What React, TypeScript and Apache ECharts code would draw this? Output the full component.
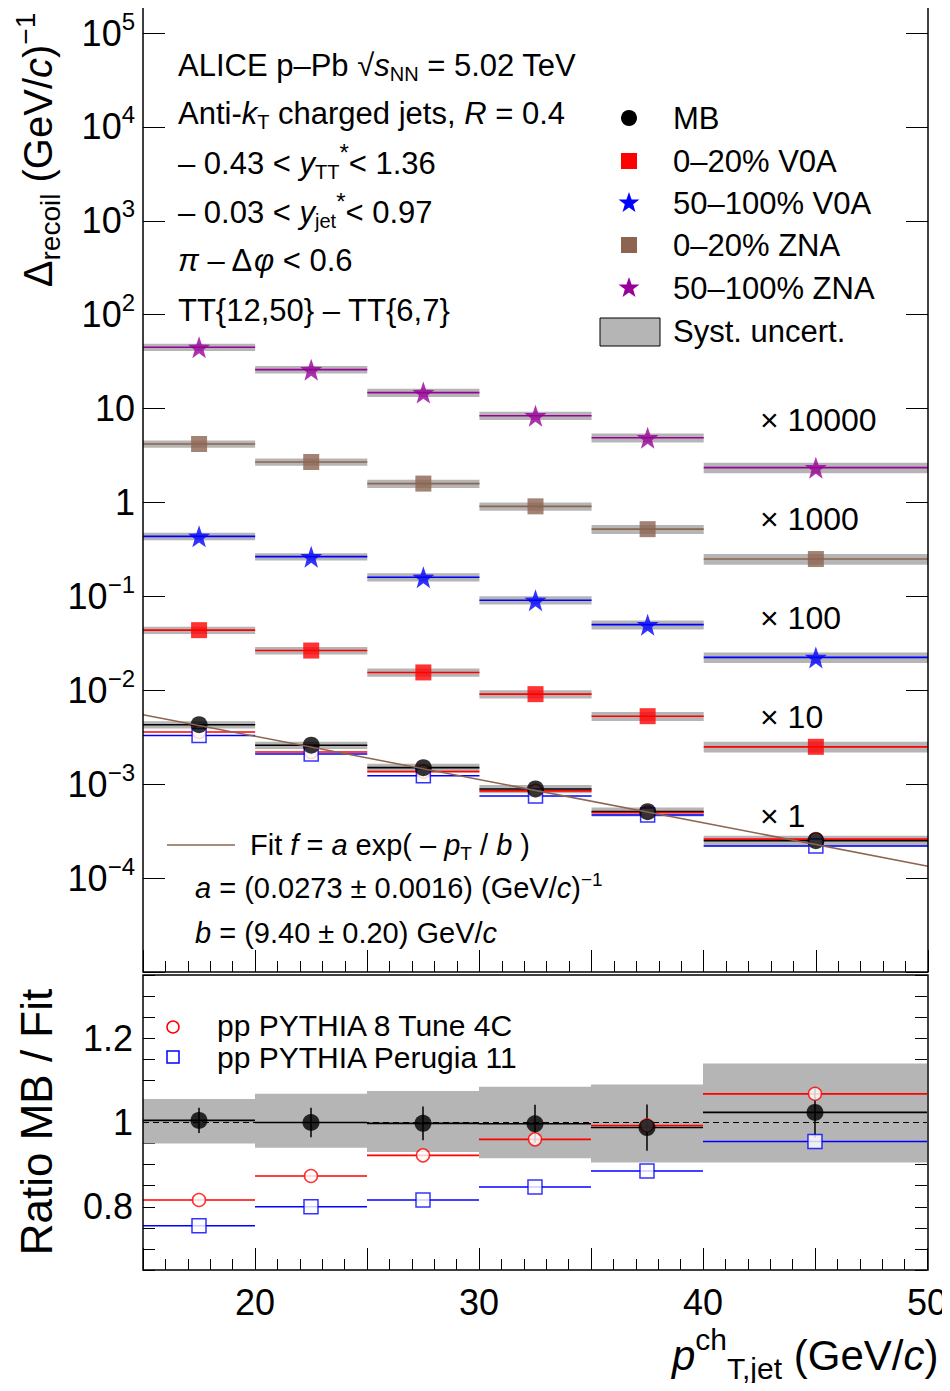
import { useEffect, useRef } from 'react';
import * as echarts from 'echarts';

const FONT = 'Liberation Sans';

const binLo = [15, 20, 25, 30, 35, 40];
const binHi = [20, 25, 30, 35, 40, 50];
const binCenter = [17.5, 22.5, 27.5, 32.5, 37.5, 45];

const mbValues = [0.0043, 0.0026, 0.0015, 0.00089, 0.00051, 0.00025];
const v0aCentral = [0.0437, 0.0265, 0.0155, 0.0091, 0.0053, 0.0025];
const v0aPeripheral = [0.436, 0.265, 0.16, 0.091, 0.05, 0.0224];
const znaCentral = [4.2, 2.7, 1.59, 0.91, 0.52, 0.25];
const znaPeripheral = [45, 26, 14.8, 8.4, 4.9, 2.35];
const tune4cTop = [0.0036, 0.0022, 0.00136, 0.00085, 0.0005, 0.00026];
const perugiaTop = [0.0033, 0.0021, 0.00123, 0.00075, 0.00047, 0.00022];
const sysFrac = [0.09, 0.09, 0.1, 0.1, 0.11, 0.13];

const fitLine = [[15, 0.0055], [50, 0.000134]];

const ratioMB = [1.005, 1.0, 0.998, 0.997, 0.988, 1.024];
const ratioMBErr = [0.03, 0.035, 0.04, 0.045, 0.055, 0.06];
const ratioSysLo = [0.95, 0.94, 0.93, 0.915, 0.905, 0.905];
const ratioSysHi = [1.056, 1.068, 1.075, 1.085, 1.09, 1.14];
const ratioTune4c = [0.816, 0.873, 0.922, 0.96, 0.993, 1.068];
const ratioPerugia = [0.755, 0.8, 0.816, 0.847, 0.885, 0.955];

const multipliers = ['× 10000', '× 1000', '× 100', '× 10', '× 1'];

const STAR = 'path://M0,-10 L2.35,-3.24 L9.51,-3.09 L3.8,1.24 L5.88,8.09 L0,4 L-5.88,8.09 L-3.8,1.24 L-9.51,-3.09 L-2.35,-3.24 Z';

function binSeries(values: number[], color: string, box: boolean, xi: number, lo?: number[], hi?: number[]) {
  const data = values.map((v, i) => [
    binLo[i], binHi[i], v,
    lo ? lo[i] : v * (1 - sysFrac[i]),
    hi ? hi[i] : v * (1 + sysFrac[i]),
  ]);
  return {
    type: 'custom',
    xAxisIndex: xi,
    yAxisIndex: xi === 0 ? 0 : 2,
    data,
    z: box ? 2 : 3,
    renderItem: (_p: any, api: any) => {
      const a = api.coord([api.value(0), api.value(3)]);
      const b = api.coord([api.value(1), api.value(4)]);
      const m = api.coord([api.value(0), api.value(2)]);
      const n = api.coord([api.value(1), api.value(2)]);
      const children: any[] = [];
      if (box) {
        children.push({ type: 'rect', shape: { x: a[0], y: b[1], width: b[0] - a[0], height: a[1] - b[1] }, style: { fill: '#b5b5b5' } });
      }
      children.push({ type: 'line', shape: { x1: m[0], y1: m[1], x2: n[0], y2: n[1] }, style: { stroke: color, lineWidth: 1.6 } });
      return { type: 'group', children };
    },
  };
}

function points(values: number[], symbol: string, size: number, color: string, xi: number, hollow = false) {
  return {
    type: 'scatter',
    xAxisIndex: xi,
    yAxisIndex: xi === 0 ? 0 : 2,
    data: values.map((v, i) => [binCenter[i], v]),
    symbol,
    symbolSize: size,
    z: 5,
    itemStyle: hollow ? { color: '#fff', borderColor: color, borderWidth: 1.5 } : { color },
  };
}

function logLabel(v: number) {
  const e = Math.round(Math.log10(v));
  if (e <= -5) return '';
  if (e === 0) return '1';
  if (e === 1) return '10';
  return `10{s|${e < 0 ? '−' + -e : e}}`;
}

export default function App() {
  const ref = useRef<HTMLDivElement | null>(null);

  useEffect(() => {
    if (!ref.current) return;
    const chart = echarts.init(ref.current, undefined, { renderer: 'svg' });
    const txt = { fontFamily: FONT, fill: '#000' };
    const t = (x: number, y: number, text: string, size: number, rich: any = {}, extra: any = {}) => ({
      type: 'text', x, y,
      style: { ...txt, text, fontSize: size, rich, verticalAlign: 'middle', ...extra },
    });
    const sub = (size: number) => ({ fontSize: size, fontFamily: FONT, padding: [size * 0.9, 0, 0, 0] });
    const sup = (size: number) => ({ fontSize: size, fontFamily: FONT, padding: [0, 0, size * 0.9, 0] });
    const it = (size: number) => ({ fontSize: size, fontFamily: FONT, fontStyle: 'italic' });

    const legend = [
      { y: 118, text: 'MB', sym: { type: 'circle', shape: { cx: 629, cy: 118, r: 8 }, style: { fill: '#000' } } },
      { y: 161, text: '0–20% V0A', sym: { type: 'rect', shape: { x: 621, y: 153, width: 16, height: 16 }, style: { fill: '#ff0000' } } },
      { y: 203, text: '50–100% V0A', sym: { type: 'star', color: '#0000ff' } },
      { y: 245, text: '0–20% ZNA', sym: { type: 'rect', shape: { x: 621, y: 237, width: 16, height: 16 }, style: { fill: '#8c6450' } } },
      { y: 288, text: '50–100% ZNA', sym: { type: 'star', color: '#990099' } },
    ];
    const starPts = (cx: number, cy: number, r: number) => {
      const p: number[][] = [];
      for (let k = 0; k < 10; k++) {
        const ang = -Math.PI / 2 + (k * Math.PI) / 5;
        const rr = k % 2 === 0 ? r : r * 0.4;
        p.push([cx + rr * Math.cos(ang), cy + rr * Math.sin(ang)]);
      }
      return p;
    };

    const graphics: any[] = [
      { type: 'rect', shape: { x: 143, y: 1, width: 785, height: 971 }, style: { fill: 'none', stroke: '#000', lineWidth: 1.5 }, z: 10 },
      { type: 'rect', shape: { x: 143, y: 975, width: 785, height: 295 }, style: { fill: 'none', stroke: '#000', lineWidth: 1.5 }, z: 10 },
      t(178, 65, 'ALICE p–Pb √{i|s}{sb|NN} = 5.02 TeV', 31, { i: it(31), sb: sub(20) }),
      t(178, 113, 'Anti-{i|k}{sb|T} charged jets, {i|R} = 0.4', 31, { i: it(31), sb: sub(20) }),
      t(178, 163, '– 0.43 < {i|y}{sb|TT}{sp|*}< 1.36', 31, { i: it(31), sb: sub(20), sp: sup(24) }),
      t(178, 212, '– 0.03 < {i|y}{sb|jet}{sp|*}< 0.97', 31, { i: it(31), sb: sub(20), sp: sup(24) }),
      t(178, 260, '{i|π} – Δ{i|φ} < 0.6', 31, { i: it(31) }),
      t(178, 310, 'TT{12,50} – TT{6,7}', 31),
      ...legend.map((l) => t(673, l.y, l.text, 31)),
      ...legend.map((l: any) =>
        l.sym.type === 'star'
          ? { type: 'polygon', shape: { points: starPts(629, l.y, 11) }, style: { fill: l.sym.color } }
          : l.sym,
      ),
      { type: 'rect', shape: { x: 600, y: 318, width: 60, height: 28 }, style: { fill: '#b5b5b5', stroke: '#000', lineWidth: 1 } },
      t(673, 331, 'Syst. uncert.', 31),
      ...multipliers.map((m, i) => t(760, 420 + i * 99, m, 32)),
      { type: 'line', shape: { x1: 167, y1: 845, x2: 235, y2: 845 }, style: { stroke: '#8c6450', lineWidth: 1.5 } },
      t(250, 845, 'Fit {i|f} = {i|a} exp( – {i|p}{sb|T} / {i|b} )', 29, { i: it(29), sb: sub(19) }),
      t(195, 888, '{i|a} = (0.0273 ± 0.0016) (GeV/{i|c}){sp|−1}', 29, { i: it(29), sp: sup(19) }),
      t(195, 933, '{i|b} = (9.40 ± 0.20) GeV/{i|c}', 29, { i: it(29) }),
      { type: 'circle', shape: { cx: 173, cy: 1027, r: 6 }, style: { fill: 'none', stroke: '#ff0000', lineWidth: 1.5 } },
      t(217, 1025, 'pp PYTHIA 8 Tune 4C', 30),
      { type: 'rect', shape: { x: 167, y: 1051, width: 12, height: 12 }, style: { fill: 'none', stroke: '#0000ff', lineWidth: 1.5 } },
      t(217, 1057, 'pp PYTHIA Perugia 11', 30),
      {
        type: 'text', x: 38, y: 150, rotation: Math.PI / 2,
        style: { ...txt, text: 'Δ{sb|recoil} (GeV/{i|c}){sp|−1}', fontSize: 40, rich: { sb: sub(28), i: it(40), sp: sup(28) }, align: 'center', verticalAlign: 'middle' },
      },
      {
        type: 'text', x: 36, y: 1122, rotation: Math.PI / 2,
        style: { ...txt, text: 'Ratio MB / Fit', fontSize: 44, align: 'center', verticalAlign: 'middle' },
      },
      t(672, 1355, '{i|p}{c|ch}{sb|T,jet} (GeV/{i|c})', 42, { i: it(42), c: { fontSize: 30, fontFamily: FONT, padding: [0, 0, 32, 0] }, sb: sub(30) }),
    ];

    const yTick = { show: true, inside: true, length: 22, lineStyle: { color: '#000' } };
    chart.setOption({
      animation: false,
      grid: [
        { left: 143, right: 22, top: 33, height: 939 },
        { left: 143, right: 22, top: 975, height: 295 },
      ],
      xAxis: [
        { type: 'value', gridIndex: 0, min: 15, max: 50, interval: 5, axisLine: { show: false }, axisTick: { inside: true, length: 22, lineStyle: { color: '#000' } }, minorTick: { show: true, splitNumber: 5, length: 11, lineStyle: { color: '#000' } }, axisLabel: { show: false }, splitLine: { show: false } },
        {
          type: 'value', gridIndex: 1, min: 15, max: 50, interval: 5,
          axisLine: { show: false },
          axisTick: { inside: true, length: 22, lineStyle: { color: '#000' } },
          minorTick: { show: true, splitNumber: 5, length: 11, lineStyle: { color: '#000' } },
          axisLabel: { fontFamily: FONT, fontSize: 36, color: '#000', margin: 14, formatter: (v: number) => (v % 10 === 0 ? String(v) : '') },
          splitLine: { show: false },
        },
      ],
      yAxis: [
        {
          type: 'log', gridIndex: 0, min: 1e-5, max: 1e5, logBase: 10, interval: 1,
          axisLine: { show: false }, axisTick: yTick, splitLine: { show: false },
          axisLabel: { fontFamily: FONT, fontSize: 36, color: '#000', margin: 8, formatter: logLabel, rich: { s: { fontSize: 24, fontFamily: FONT, padding: [0, 0, 24, 0] } } },
        },
        { type: 'log', gridIndex: 0, min: 1e-5, max: 1e5, interval: 1, position: 'right', axisLine: { show: false }, axisTick: yTick, axisLabel: { show: false }, splitLine: { show: false } },
        {
          type: 'value', gridIndex: 1, min: 0.65, max: 1.35, interval: 0.05,
          axisLine: { show: false }, axisTick: { show: true, inside: true, length: 12, lineStyle: { color: '#000' } }, splitLine: { show: false },
          axisLabel: { fontFamily: FONT, fontSize: 36, color: '#000', margin: 10, formatter: (v: number) => { const r = Math.round(v * 100); return r === 80 ? '0.8' : r === 100 ? '1' : r === 120 ? '1.2' : ''; } },
        },
        { type: 'value', gridIndex: 1, min: 0.65, max: 1.35, interval: 0.05, position: 'right', axisLine: { show: false }, axisTick: { show: true, inside: true, length: 12, lineStyle: { color: '#000' } }, axisLabel: { show: false }, splitLine: { show: false } },
      ],
      series: [
        binSeries(mbValues, '#000', true, 0),
        binSeries(v0aCentral, '#ff0000', true, 0),
        binSeries(v0aPeripheral, '#0000ff', true, 0),
        binSeries(znaCentral, '#8c6450', true, 0),
        binSeries(znaPeripheral, '#990099', true, 0),
        binSeries(tune4cTop, '#ff0000', false, 0),
        binSeries(perugiaTop, '#0000ff', false, 0),
        points(tune4cTop, 'circle', 13, '#ff0000', 0, true),
        points(perugiaTop, 'rect', 14, '#0000ff', 0, true),
        points(mbValues, 'circle', 17, '#000', 0),
        points(v0aCentral, 'rect', 16, '#ff0000', 0),
        points(v0aPeripheral, STAR, 22, '#0000ff', 0),
        points(znaCentral, 'rect', 16, '#8c6450', 0),
        points(znaPeripheral, STAR, 22, '#990099', 0),
        {
          type: 'line', xAxisIndex: 0, yAxisIndex: 0, data: fitLine, showSymbol: false, z: 6,
          lineStyle: { color: '#8c6450', width: 1.5 },
        },
        binSeries(ratioMB, '#000', true, 1, ratioSysLo, ratioSysHi),
        binSeries(ratioTune4c, '#ff0000', false, 1),
        binSeries(ratioPerugia, '#0000ff', false, 1),
        {
          type: 'custom', xAxisIndex: 1, yAxisIndex: 2, z: 4,
          data: ratioMB.map((v, i) => [binCenter[i], v - ratioMBErr[i], v + ratioMBErr[i]]),
          renderItem: (_p: any, api: any) => {
            const a = api.coord([api.value(0), api.value(1)]);
            const b = api.coord([api.value(0), api.value(2)]);
            return { type: 'line', shape: { x1: a[0], y1: a[1], x2: b[0], y2: b[1] }, style: { stroke: '#000', lineWidth: 1.5 } };
          },
        },
        {
          type: 'line', xAxisIndex: 1, yAxisIndex: 2, data: [[15, 1], [50, 1]], showSymbol: false, z: 4,
          lineStyle: { color: '#000', width: 1.2, type: [6, 4] },
        },
        points(ratioTune4c, 'circle', 13, '#ff0000', 1, true),
        points(ratioPerugia, 'rect', 14, '#0000ff', 1, true),
        points(ratioMB, 'circle', 17, '#000', 1),
      ],
      graphic: graphics,
    });
    return () => chart.dispose();
  }, []);

  return <div ref={ref} style={{ width: 950, height: 1391, margin: -8 }} />;
}
